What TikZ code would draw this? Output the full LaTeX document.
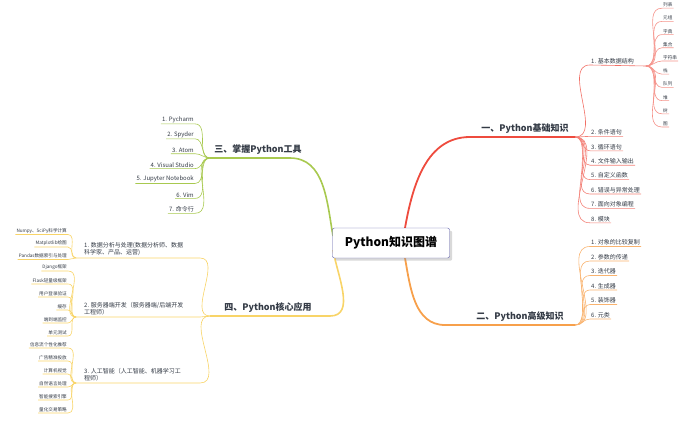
\documentclass[tikz,border=0pt]{standalone}
\usepackage{fontspec}
\setmainfont{Noto Sans CJK SC}
\usetikzlibrary{positioning,calc,shadows}
\definecolor{bred}{HTML}{EE4B3E}
\definecolor{borange}{HTML}{F7A04B}
\definecolor{bgreen}{HTML}{A8C94F}
\definecolor{byellow}{HTML}{F8D468}
\definecolor{txt}{HTML}{333A45}
\tikzset{
    x=1pt, y=-1pt,
    root/.style = {draw=gray!70!blue, rounded corners=2pt, fill=white, drop shadow={opacity=0.3},
        minimum width=117pt, minimum height=30pt, font=\bfseries\fontsize{12}{12}\selectfont, text=black},
    branch/.style = {font=\bfseries\fontsize{9}{9}\selectfont, text=txt, inner sep=1pt},
    item/.style = {font=\fontsize{6}{7}\selectfont, text=txt, inner sep=1pt},
    leaf/.style = {font=\fontsize{4.6}{5}\selectfont, text=txt, inner sep=1pt},
    link/.style = {line width=0.6pt},
}
\begin{document}
\begin{tikzpicture}
\useasboundingbox (0,0) rectangle (700,425);

% branch one: red
\coordinate (r0) at (470,137);
\coordinate (r1) at (575,137);
\node[branch, anchor=south] (basic) at (525,135) {一、Python基础知识};
\node[item, anchor=south west] (ds) at (590,65) {1. 基本数据结构};
\coordinate (dsf) at (646,66);
\foreach \t [count=\i] in {列表,元组,字典,集合,字符串,栈,队列,堆,树,图}
  \node[leaf, anchor=south west] (dsl\i) at (662,{-5+13.2*\i}) {\t};
\foreach \i in {1,...,10}
  \draw[bred!60, link] (dsf) to[out=0,in=180] (dsl\i.south west) -- (dsl\i.south east);
\draw[bred!80, link] (r1) to[out=0,in=180] (ds.south west) -- (dsf);
\foreach \t [count=\i] in {2. 条件语句,3. 循环语句,4. 文件输入输出,5. 自定义函数,6. 错误与异常处理,7. 面向对象编程,8. 模块}
  {\node[item, anchor=south west] (bi\i) at (590,{122+14.4*\i}) {\t};
   \draw[bred!70, link] (r1) to[out=0,in=180] (bi\i.south west) -- (bi\i.south east);}
\draw[bred, line width=1.8pt] (405,228) to[out=80,in=180] (r0) -- (r1);

% branch two: orange
\coordinate (o0) at (445,325);
\coordinate (o1) at (575,325);
\node[branch, anchor=south] (adv) at (520,323) {二、Python高级知识};
\foreach \t [count=\i] in {1. 对象的比较复制,2. 参数的传递,3. 迭代器,4. 生成器,5. 装饰器,6. 元类}
  {\node[item, anchor=south west] (ai\i) at (590,{232+14.5*\i}) {\t};
   \draw[borange!80, link] (o1) to[out=0,in=180] (ai\i.south west) -- (ai\i.south east);}
\draw[borange, line width=1.8pt] (405,258) to[out=-80,in=180] (o0) -- (o1);

% branch three: green
\coordinate (g0) at (290,158);
\coordinate (g1) at (210,158);
\node[branch, anchor=south] (tools) at (258,156) {三、掌握Python工具};
\foreach \t [count=\i] in {1. Pycharm,2. Spyder,3. Atom,4. Visual Studio,5. Jupyter Notebook,6. Vim,7. 命令行}
  {\node[item, anchor=south east] (ti\i) at (195,{109+14.9*\i}) {\t};
   \draw[bgreen, link] (g1) to[out=180,in=0] (ti\i.south east) -- (ti\i.south west);}
\draw[bgreen, line width=1.6pt] (333,236) to[out=100,in=0] (g0) -- (g1);

% branch four: yellow
\coordinate (y0) at (330,316);
\coordinate (y1) at (210,316);
\node[branch, anchor=south] (core) at (268,314) {四、Python核心应用};
\node[item, anchor=south west, align=left] (ap1) at (83,257) {1. 数据分析与处理(数据分析师、数据\\科学家、产品、运营)};
\node[item, anchor=south west, align=left] (ap2) at (83,316) {2. 服务器端开发（服务器端/后端开发\\工程师）};
\node[item, anchor=south west, align=left] (ap3) at (83,382) {3. 人工智能（人工智能、机器学习工\\程师）};
\foreach \n/\y in {1/258,2/317,3/383}
  \coordinate (apf\n) at (76,\y);
\foreach \n/\y in {1/258,2/317,3/383}
  \draw[byellow, link] (y1) to[out=180,in=0] (200,\y) -- (apf\n);
\foreach \t [count=\i] in {Numpy、SciPy科学计算,Matplotlib绘图,Pandas数据索引与处理}
  {\node[leaf, anchor=south east] (l1\i) at (68,{222+12.5*\i}) {\t};
   \draw[byellow, link] (apf1) to[out=180,in=0] (l1\i.south east) -- (l1\i.south west);}
\foreach \t [count=\i] in {Django框架,Flask轻量级框架,用户登录验证,缓存,端到端监控,单元测试}
  {\node[leaf, anchor=south east] (l2\i) at (68,{258+13*\i}) {\t};
   \draw[byellow, link] (apf2) to[out=180,in=0] (l2\i.south east) -- (l2\i.south west);}
\foreach \t [count=\i] in {信息流个性化推荐,广告精准投放,计算机视觉,自然语言处理,智能搜索引擎,量化交易策略}
  {\node[leaf, anchor=south east] (l3\i) at (68,{335+13*\i}) {\t};
   \draw[byellow, link] (apf3) to[out=180,in=0] (l3\i.south east) -- (l3\i.south west);}
\draw[byellow, line width=1.6pt] (333,250) to[out=-80,in=0] (y0) -- (y1);

\node[root] (center) at (391,243) {Python知识图谱};
\end{tikzpicture}
\end{document}
